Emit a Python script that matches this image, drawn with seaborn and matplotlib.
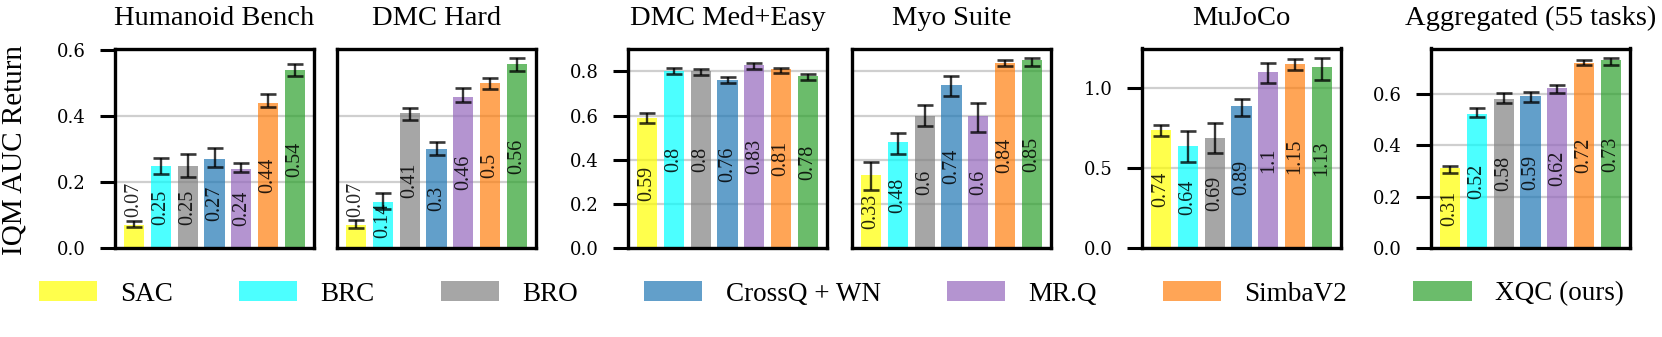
import matplotlib
matplotlib.use('Agg')
import matplotlib.pyplot as plt
import seaborn as sns
import numpy as np
import pandas as pd
from matplotlib.patches import Patch
from matplotlib.ticker import MultipleLocator, FormatStrFormatter

# tick labels in DejaVu Serif (wide, CM-like); everything else in Times-like Liberation Serif
plt.rcParams['font.family'] = 'serif'
plt.rcParams['font.serif'] = ['DejaVu Serif']
TIMES = 'Liberation Serif'

methods = ['SAC', 'BRC', 'BRO', 'CrossQ + WN', 'MR.Q', 'SimbaV2', 'XQC (ours)']
colors = ['yellow', 'cyan', 'gray', 'tab:blue', 'tab:purple', 'tab:orange', 'tab:green']

titles = ['Humanoid Bench', 'DMC Hard', 'DMC Med+Easy', 'Myo Suite', 'MuJoCo', 'Aggregated (55 tasks)']

humanoid_mean = [0.07, 0.25, 0.25, 0.27, 0.24, 0.44, 0.54]
humanoid_lo = [0.065, 0.225, 0.217, 0.247, 0.230, 0.427, 0.521]
humanoid_hi = [0.082, 0.275, 0.285, 0.305, 0.259, 0.467, 0.558]

dmc_hard_mean = [0.07, 0.14, 0.41, 0.3, 0.46, 0.5, 0.56]
dmc_hard_lo = [0.061, 0.118, 0.389, 0.282, 0.444, 0.482, 0.539]
dmc_hard_hi = [0.086, 0.168, 0.426, 0.322, 0.485, 0.515, 0.577]

dmc_me_mean = [0.59, 0.8, 0.8, 0.76, 0.83, 0.81, 0.78]
dmc_me_lo = [0.567, 0.789, 0.783, 0.748, 0.812, 0.795, 0.763]
dmc_me_hi = [0.612, 0.817, 0.810, 0.776, 0.838, 0.814, 0.790]

myo_mean = [0.33, 0.48, 0.6, 0.74, 0.6, 0.84, 0.85]
myo_lo = [0.264, 0.427, 0.553, 0.688, 0.528, 0.825, 0.826]
myo_hi = [0.389, 0.523, 0.648, 0.780, 0.659, 0.852, 0.861]

mujoco_mean = [0.74, 0.64, 0.69, 0.89, 1.1, 1.15, 1.13]
mujoco_lo = [0.704, 0.541, 0.598, 0.825, 1.031, 1.113, 1.052]
mujoco_hi = [0.769, 0.733, 0.781, 0.933, 1.160, 1.183, 1.189]

agg_mean = [0.31, 0.52, 0.58, 0.59, 0.62, 0.72, 0.73]
agg_lo = [0.291, 0.508, 0.563, 0.567, 0.602, 0.709, 0.712]
agg_hi = [0.320, 0.544, 0.602, 0.606, 0.632, 0.730, 0.738]

panels = [
    (humanoid_mean, humanoid_lo, humanoid_hi),
    (dmc_hard_mean, dmc_hard_lo, dmc_hard_hi),
    (dmc_me_mean, dmc_me_lo, dmc_me_hi),
    (myo_mean, myo_lo, myo_hi),
    (mujoco_mean, mujoco_lo, mujoco_hi),
    (agg_mean, agg_lo, agg_hi),
]

W, H = 1662, 337
fig = plt.figure(figsize=(W / 100, H / 100), dpi=100)

lefts = [115, 337, 628, 852, 1142, 1431]
bottom = (H - 248.3) / H
height = 199.8 / H
width = 199 / W

# panels 2 and 4 share the y axis of their left neighbour
share = [None, 0, None, 2, None, None]
ytick_step = [0.2, 0.2, 0.2, 0.2, 0.5, 0.2]

axes = []
for k, (mean, lo, hi) in enumerate(panels):
    sy = axes[share[k]] if share[k] is not None else None
    ax = fig.add_axes([lefts[k] / W, bottom, width, height], sharey=sy)
    axes.append(ax)
    df = pd.DataFrame({'method': methods, 'value': mean})
    sns.barplot(data=df, x='method', y='value', hue='method', palette=colors,
                saturation=1, alpha=0.7, width=0.75, errorbar=None, legend=False,
                linewidth=0, ax=ax, zorder=2)
    mean = np.array(mean)
    ax.errorbar(np.arange(len(methods)), mean, yerr=[mean - np.array(lo), np.array(hi) - mean],
                fmt='none', ecolor='k', alpha=0.78, elinewidth=1.7, capsize=5.5,
                capthick=1.9, zorder=4)
    ax.set_xlim(-0.7125, 6.7125)
    ax.set_xticks([])
    ax.set_xlabel('')
    ax.set_ylabel('')
    ax.set_title(titles[k], fontsize=20.5, pad=17, family=TIMES)
    for s in ax.spines.values():
        s.set_linewidth(2.4)
        s.set_color('k')
    ax.set_axisbelow(True)
    ax.yaxis.grid(True, color='#cfcfcf', linewidth=1.6)
    ax.yaxis.set_major_locator(MultipleLocator(ytick_step[k]))
    ax.yaxis.set_major_formatter(FormatStrFormatter('%.1f'))
    ax.tick_params(axis='y', length=11, width=2.2, labelsize=13, pad=10)
    if share[k] is not None:
        ax.tick_params(axis='y', left=False, labelleft=False)

# y limits from the error bar tops, like matplotlib's 5% margin
groups = [[0, 1], [2, 3], [4], [5]]
for g in groups:
    top = max(max(panels[i][2]) for i in g) * 1.05
    axes[g[0]].set_ylim(0, top)

for k, (mean, lo, hi) in enumerate(panels):
    ax = axes[k]
    ytop = ax.get_ylim()[1]
    for i, h in enumerate(mean):
        if h / ytop < 0.15:
            y = h + 0.13 * ytop
        else:
            y = max(h / 2, 0.14 * ytop)
        ax.text(i, y, f"{h:g}", rotation=90, ha='center', va='center', family=TIMES,
                fontsize=14.5, color='k', alpha=0.85, zorder=5)

fig.text(15 / W, 0.555, 'IQM AUC Return', rotation=90, ha='center', va='center',
         fontsize=21, family=TIMES)

handles = [Patch(facecolor=c, alpha=0.7, linewidth=0) for c in colors]
fig.legend(handles, methods, loc='center', bbox_to_anchor=(0.5, 0.128), ncol=7,
           frameon=False, prop={'family': TIMES, 'size': 19.5}, handlelength=2.15,
           handleheight=0.74, handletextpad=0.85, columnspacing=2.45)

fig.savefig('out.png', dpi=100)
